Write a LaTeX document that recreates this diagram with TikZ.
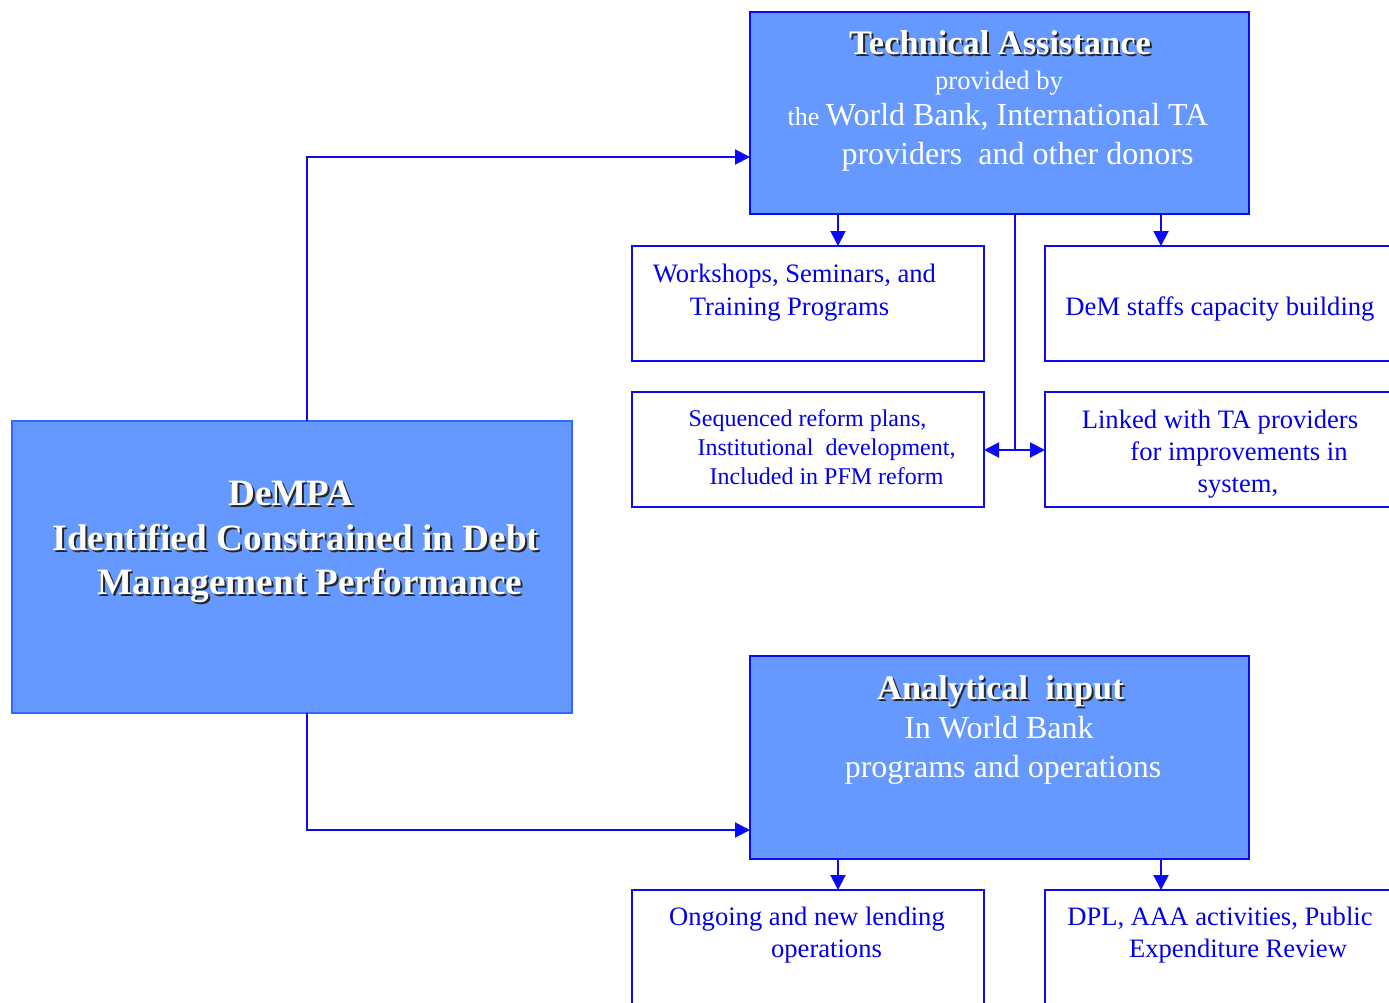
\documentclass[tikz,border=0pt]{standalone}
\usepackage{fontspec}
\setmainfont{Liberation Serif}
\usetikzlibrary{arrows.meta,calc}
\definecolor{boxfill}{RGB}{102,153,255}
\definecolor{lineblue}{RGB}{10,10,245}
\definecolor{textblue}{RGB}{0,0,235}
\definecolor{dempaborder}{RGB}{51,102,255}
\newcommand\fs[1]{\fontsize{#1}{#1}\selectfont}
\newcommand\shadowtitle[5]{%
  \node[anchor=base, inner sep=0pt, text=black!85] (#1s) at (#2+2,#3+2) {\fs{#4}\bfseries #5};
  \node[anchor=base, inner sep=0pt, text=white] (#1) at (#2,#3) {\fs{#4}\bfseries #5};}
\begin{document}
\begin{tikzpicture}[x=1pt,y=-1pt,
  bluebox/.style={draw=lineblue, fill=boxfill, line width=2pt, anchor=north west, inner sep=0pt, outer sep=0pt},
  whitebox/.style={draw=lineblue, fill=white, line width=2pt, anchor=north west, inner sep=0pt, outer sep=0pt},
  conn/.style={draw=lineblue, line width=2pt},
  arr/.style={conn, -{Triangle[length=15pt,width=15pt]}},
  txt/.style={anchor=base, inner sep=0pt, text=textblue},
  wtxt/.style={anchor=base, inner sep=0pt, text=white},
]
\useasboundingbox (0,0) rectangle (1389,1003);

% boxes
\node[bluebox, minimum width=499pt, minimum height=202pt] (ta) at (750,12) {};
\node[whitebox, minimum width=352pt, minimum height=115pt] (ws) at (632,246) {};
\node[whitebox, minimum width=360pt, minimum height=115pt] (dem) at (1045,246) {};
\node[whitebox, minimum width=352pt, minimum height=115pt] (seq) at (632,392) {};
\node[whitebox, minimum width=360pt, minimum height=115pt] (link) at (1045,392) {};
\node[bluebox, draw=dempaborder, minimum width=560pt, minimum height=292pt] (dempa) at (12,421) {};
\node[bluebox, minimum width=499pt, minimum height=203pt] (ana) at (750,656) {};
\node[whitebox, minimum width=352pt, minimum height=160pt] (ong) at (632,890) {};
\node[whitebox, minimum width=360pt, minimum height=160pt] (dpl) at (1045,890) {};

% connector coordinates
\coordinate (xl) at (307,0);
\coordinate (xa) at (838,0);
\coordinate (xb) at (1161,0);
\coordinate (xm) at (1015,0);
\coordinate (taIn) at (750,157);
\coordinate (anaIn) at (750,830);
\coordinate (yj) at (0,450);

\draw[arr] (dempa.north -| xl) |- (taIn);
\draw[arr] (dempa.south -| xl) |- (anaIn);
\draw[arr] (ta.south -| xa) -- (ws.north -| xa);
\draw[arr] (ta.south -| xb) -- (dem.north -| xb);
\draw[conn] (ta.south -| xm) -- (xm |- yj) coordinate (j);
\draw[arr] (j) -- (seq.east |- j);
\draw[arr] (j) -- (link.west |- j);
\draw[arr] (ana.south -| xa) -- (ong.north -| xa);
\draw[arr] (ana.south -| xb) -- (dpl.north -| xb);

% Technical Assistance texts
\shadowtitle{tat}{1000}{55}{34.4}{Technical Assistance}
\node[wtxt] (ta1) at (999,90) {\fs{26.6}provided by};
\node[wtxt] (ta2) at (998,126) {\fs{26}the {\fs{32}World Bank, International TA}};
\node[wtxt] (ta3) at (1017.5,165) {\fs{32}providers\ \ and other donors};

% Analytical
\shadowtitle{anat}{1000.5}{699}{34.4}{Analytical\ \ input}
\node[wtxt] (an1) at (999,738) {\fs{32}In World Bank};
\node[wtxt] (an2) at (1003,777) {\fs{32}programs and operations};

% DeMPA
\shadowtitle{dt1}{291}{505}{37.2}{DeMPA}
\shadowtitle{dt2}{296}{550}{37.2}{Identified Constrained in Debt}
\shadowtitle{dt3}{310}{594}{37.2}{Management Performance}

% white boxes texts
\node[txt] (ws1) at (794.5,282) {\fs{26.6}Workshops, Seminars, and};
\node[txt] (ws2) at (789.5,315) {\fs{26.6}Training Programs};
\node[txt] (dem1) at (1220,315) {\fs{26.6}DeM staffs capacity building};
\node[txt] (seq1) at (807.5,426) {\fs{24}Sequenced reform plans,};
\node[txt] (seq2) at (826.5,455) {\fs{24}Institutional\ \ development,};
\node[txt] (seq3) at (826.5,484) {\fs{24}Included in PFM reform};
\node[txt] (ln1) at (1220,428) {\fs{26.6}Linked with TA providers};
\node[txt] (ln2) at (1239,460) {\fs{26.6}for improvements in};
\node[txt] (ln3) at (1238,492) {\fs{26.6}system,};
\node[txt] (on1) at (807,925) {\fs{26.6}Ongoing and new lending};
\node[txt] (on2) at (826.5,957) {\fs{26.6}operations};
\node[txt] (dp1) at (1220,925) {\fs{26.6}DPL, AAA activities, Public};
\node[txt] (dp2) at (1238,957) {\fs{26.6}Expenditure Review};
\end{tikzpicture}
\end{document}
